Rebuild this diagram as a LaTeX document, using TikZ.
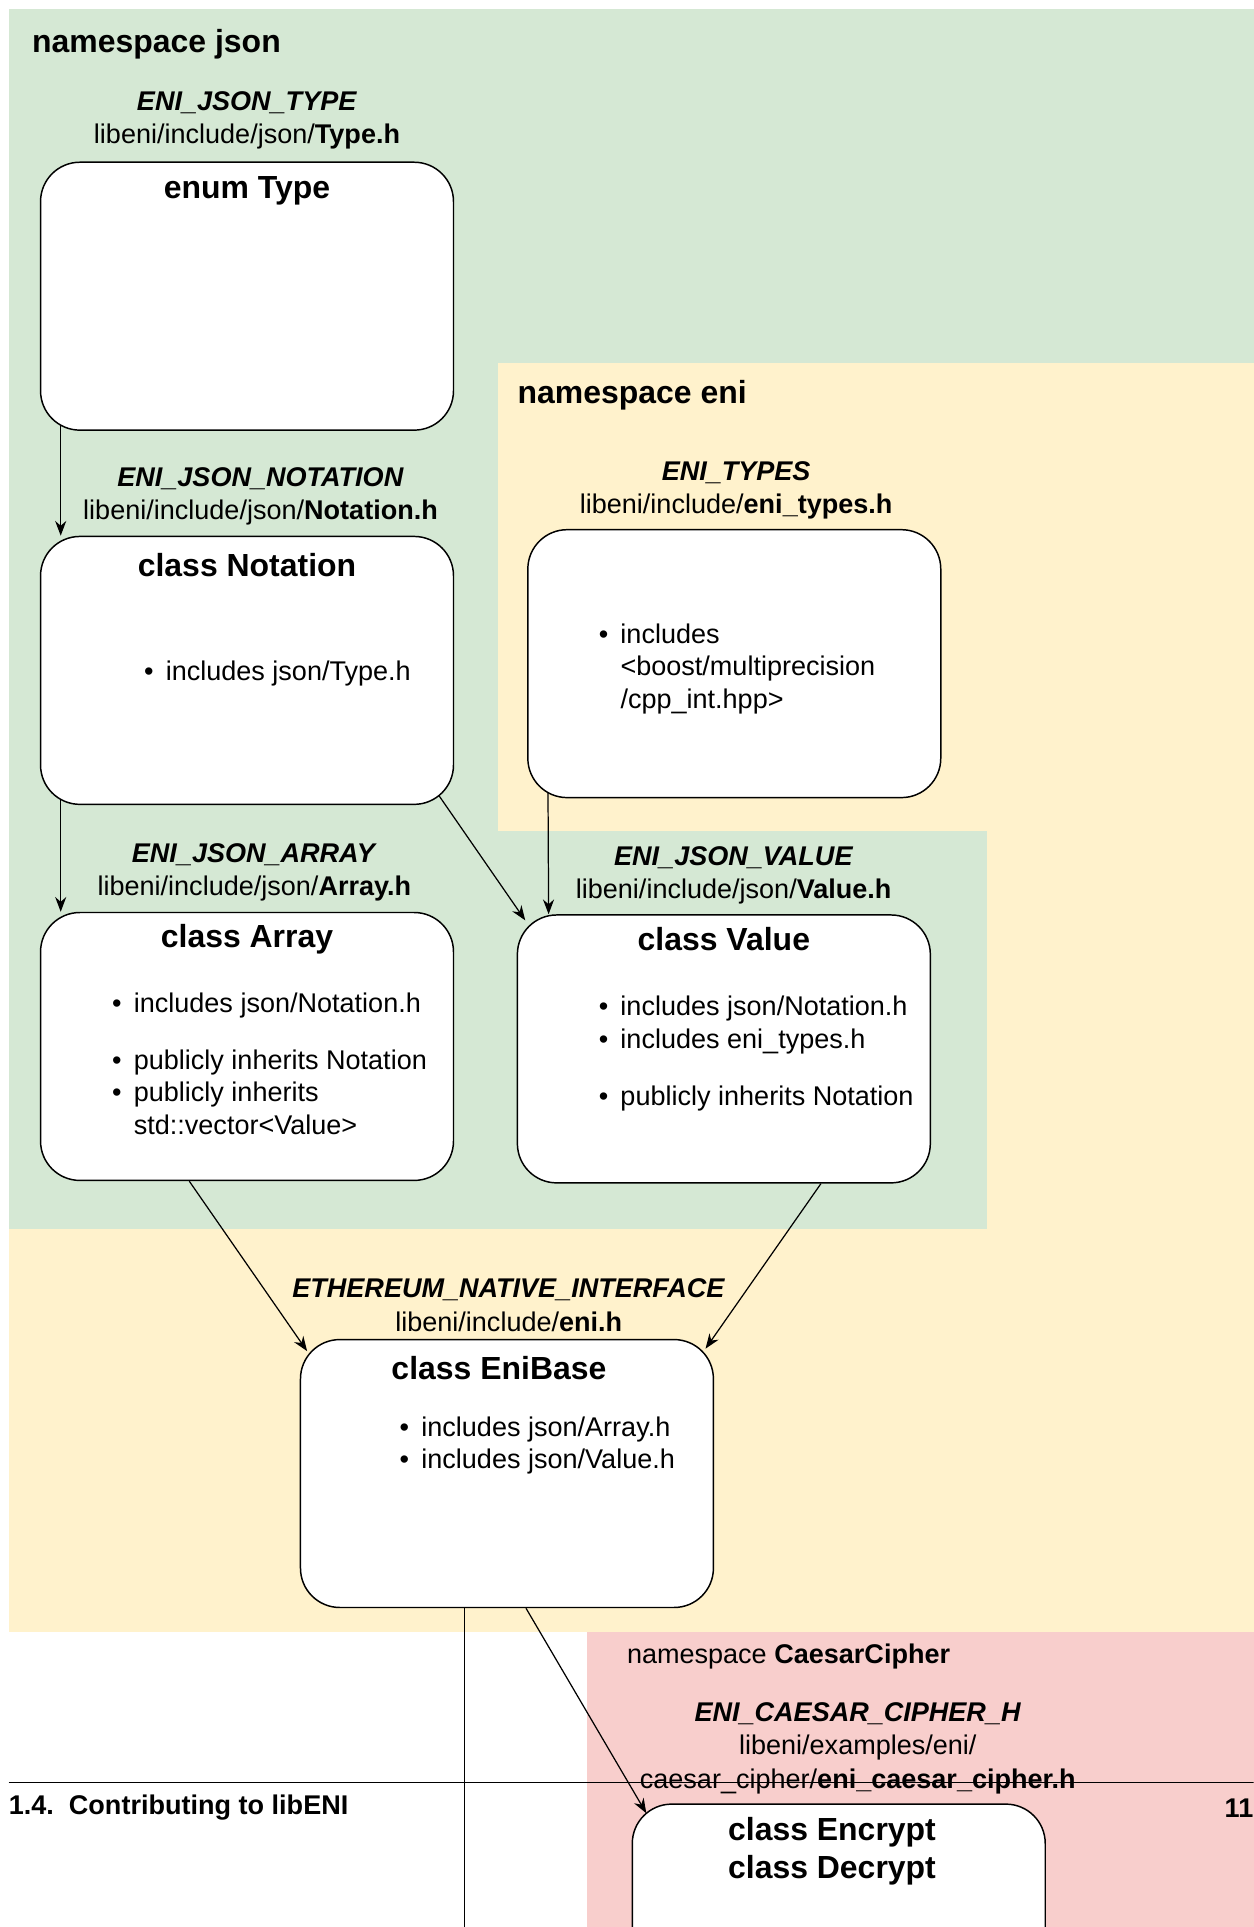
\documentclass[tikz,border=0pt]{standalone}
\usepackage{fontspec}
\setmainfont{Liberation Sans}
\usetikzlibrary{arrows.meta,backgrounds}
\definecolor{jsongreen}{HTML}{D5E8D4}
\definecolor{eniyellow}{HTML}{FFF2CC}
\definecolor{caesarred}{HTML}{F8CECC}
\pgfdeclarelayer{links}
\pgfsetlayers{background,links,main}

\begin{document}
\begin{tikzpicture}[x=1pt,y=-1pt,>={Stealth[length=12pt,width=9pt]},
 classbox/.style={draw,line width=1.2pt,fill=white,rounded corners=32pt,minimum width=336pt,minimum height=218pt},
 header/.style={align=center,inner sep=0,yshift=-2.5pt,font=\fontsize{22}{27}\selectfont},
 title/.style={inner sep=0,align=center,yshift=-2.5pt,font=\bfseries\fontsize{26}{31}\selectfont},
 items/.style={anchor=west,inner sep=0,yshift=-2.5pt,font=\fontsize{22}{26.5}\selectfont},
 nslabel/.style={anchor=west,inner sep=0,yshift=-2pt,font=\bfseries\fontsize{26}{31}\selectfont},
 link/.style={->,line width=1pt}]
\useasboundingbox (0,0) rectangle (1020,1568);
\clip (0,0) rectangle (1020,1568);

% namespaces
\begin{scope}[on background layer]
\fill[jsongreen] (7,7) rectangle (1020,1000);
\fill[eniyellow] (405,295) rectangle (1020,1328);
\fill[jsongreen] (405,676) rectangle (803,1000);
\fill[eniyellow] (7,1000) rectangle (1020,1328);
\fill[caesarred] (478,1328) rectangle (1020,1568);
\end{scope}
\node[nslabel] (nsjson) at (26,34) {namespace json};
\node[nslabel] (nseni) at (421,320) {namespace eni};
\node[nslabel,font=\fontsize{22}{27}\selectfont] (nscaesar) at (510,1346) {namespace \textbf{CaesarCipher}};

% headers
\node[header] (hType) at (201,95.5) {\textbf{\textit{ENI\_JSON\_TYPE}}\\libeni/include/json/\textbf{Type.h}};
\node[header] (hNotation) at (212,401.5) {\textbf{\textit{ENI\_JSON\_NOTATION}}\\libeni/include/json/\textbf{Notation.h}};
\node[header] (hTypes) at (599,396.5) {\textbf{\textit{ENI\_TYPES}}\\libeni/include/\textbf{eni\_types.h}};
\node[header] (hArray) at (207,707.5) {\textbf{\textit{ENI\_JSON\_ARRAY}}\\libeni/include/json/\textbf{Array.h}};
\node[header] (hValue) at (597,709.5) {\textbf{\textit{ENI\_JSON\_VALUE}}\\libeni/include/json/\textbf{Value.h}};
\node[header] (hEni) at (414,1059.5) {\textbf{\textit{ETHEREUM\_NATIVE\_INTERFACE}}\\libeni/include/\textbf{eni.h}};
\node[header] (hCaesar) at (698,1420) {\textbf{\textit{ENI\_CAESAR\_CIPHER\_H}}\\libeni/examples/eni/\\caesar\_cipher/\textbf{eni\_caesar\_cipher.h}};

% boxes
\node[classbox] (typebox) at (201,241) {};
\node[classbox] (notationbox) at (201,545.5) {};
\node[classbox] (typesbox) at (597.5,540) {};
\node[classbox] (arraybox) at (201,851.5) {};
\node[classbox] (valuebox) at (589,853.5) {};
\node[classbox] (enibox) at (412.5,1199) {};
\node[classbox] (cipherbox) at (682.5,1577) {};

\node[title] (tType) at (201,153) {enum Type};
\node[title] (tNotation) at (201,457) {class Notation};
\node[title] (tArray) at (201,762) {class Array};
\node[title] (tValue) at (589,762) {class Value};
\node[title] (tEni) at (406,1111) {class EniBase};
\node[title] (tCipher) at (677,1503.5) {class Encrypt\\class Decrypt};

\node[items] (iNotation) at (117,546) {\begin{tabular}{@{}c@{\hspace{10pt}}l@{}}
\textbullet & includes json/Type.h\end{tabular}};
\node[items] (iTypes) at (487,542) {\begin{tabular}{@{}c@{\hspace{10pt}}l@{}}
\textbullet & includes\\ & <boost/multiprecision\\ & /cpp\_int.hpp>\end{tabular}};
\node[items] (iArray) at (91,865.5) {\begin{tabular}{@{}c@{\hspace{10pt}}l@{}}
\textbullet & includes json/Notation.h\\[20pt]
\textbullet & publicly inherits Notation\\
\textbullet & publicly inherits\\ & std::vector<Value>\end{tabular}};
\node[items] (iValue) at (487,855) {\begin{tabular}{@{}c@{\hspace{10pt}}l@{}}
\textbullet & includes json/Notation.h\\
\textbullet & includes eni\_types.h\\[20pt]
\textbullet & publicly inherits Notation\end{tabular}};
\node[items] (iEni) at (325,1174) {\begin{tabular}{@{}c@{\hspace{10pt}}l@{}}
\textbullet & includes json/Array.h\\
\textbullet & includes json/Value.h\end{tabular}};

% dependencies
\coordinate (downlink) at (378,1575);
\begin{pgfonlayer}{links}
\draw[link] ([shift={(17,-8)}]typebox.south west) -- ([xshift=17]notationbox.north west);
\draw[link] ([shift={(17,-8)}]notationbox.south west) -- ([xshift=17]arraybox.north west);
\draw[link] ([shift={(-14,-10)}]notationbox.south east) -- ([shift={(7,5)}]valuebox.north west);
\draw[link] ([shift={(17,-8)}]typesbox.south west) -- ([xshift=26]valuebox.north west);
\draw[link] ([xshift=-47]arraybox.south) -- ([shift={(6,10)}]enibox.north west);
\draw[link] ([xshift=79]valuebox.south) -- ([shift={(-7,8)}]enibox.north east);
\draw[link] ([xshift=15.5]enibox.south) -- ([shift={(12,8)}]cipherbox.north west);
\draw[line width=1pt] ([xshift=-34.5]enibox.south) -- (downlink);
\end{pgfonlayer}

% page footer
\coordinate (ruleL) at (7,1450);
\coordinate (ruleR) at (1020,1450);
\draw[line width=0.8pt] (ruleL) -- (ruleR);
\node[anchor=west,inner sep=0,yshift=-2pt,font=\bfseries\fontsize{22}{26}\selectfont] (pagetitle) at (7,1469) {1.4.\ \ Contributing to libENI};
\node[anchor=east,inner sep=0,yshift=-2pt,font=\bfseries\fontsize{22}{26}\selectfont] (pagenum) at (1020,1469) {11};
\end{tikzpicture}
\end{document}
